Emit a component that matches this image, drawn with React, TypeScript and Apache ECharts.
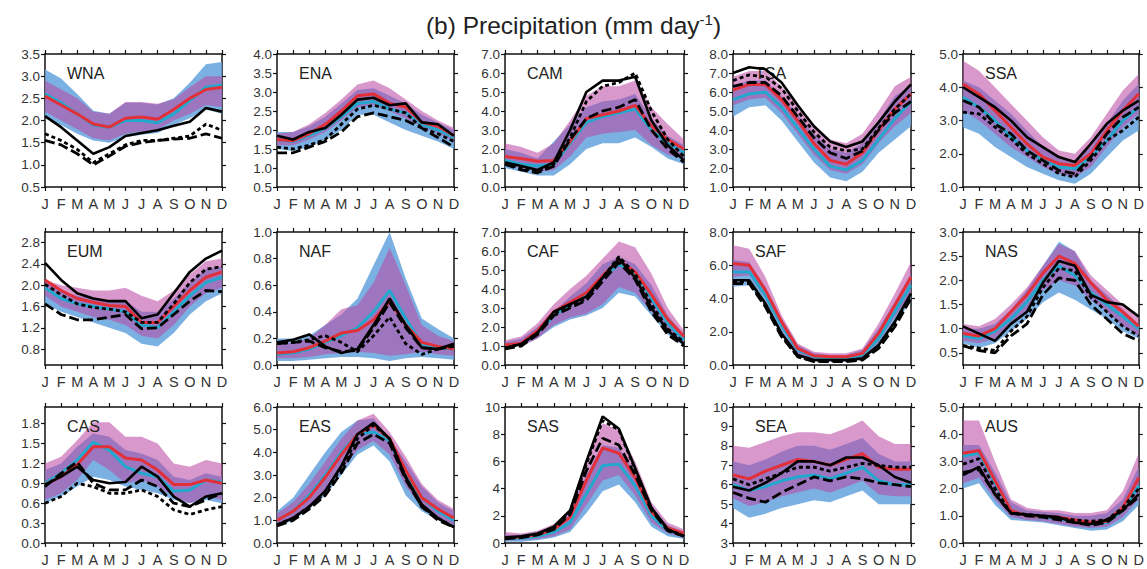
import React, { useEffect, useRef } from "react";
import * as echarts from "echarts";

const months = ["J", "F", "M", "A", "M", "J", "J", "A", "S", "O", "N", "D"];
const FONT = "'Liberation Sans', Arial, Helvetica, sans-serif";

// ---------- WNA ----------
const WNA_blueLo = [2.05, 1.9, 1.7, 1.55, 1.5, 1.62, 1.68, 1.72, 1.9, 2.05, 2.25, 2.15];
const WNA_blueHi = [3.15, 2.95, 2.6, 2.22, 2.15, 2.4, 2.4, 2.36, 2.5, 2.85, 3.27, 3.32];
const WNA_purpLo = [2.2, 2.0, 1.8, 1.6, 1.55, 1.7, 1.75, 1.8, 2.0, 2.15, 2.35, 2.3];
const WNA_purpHi = [2.9, 2.7, 2.5, 2.2, 2.15, 2.42, 2.42, 2.38, 2.48, 2.75, 3.0, 3.0];
const WNA_cyan = [2.6, 2.4, 2.15, 1.9, 1.85, 2.0, 2.0, 1.95, 2.15, 2.45, 2.75, 2.8];
const WNA_red = [2.55, 2.35, 2.15, 1.92, 1.85, 2.05, 2.08, 2.03, 2.25, 2.5, 2.7, 2.75];
const WNA_obsSolid = [2.1, 1.85, 1.55, 1.25, 1.4, 1.65, 1.72, 1.78, 1.88, 1.97, 2.28, 2.2];
const WNA_obsDash = [1.55, 1.45, 1.25, 1.0, 1.2, 1.42, 1.5, 1.55, 1.58, 1.6, 1.7, 1.6];
const WNA_obsDot = [1.7, 1.55, 1.35, 1.05, 1.25, 1.45, 1.55, 1.55, 1.6, 1.65, 1.92, 1.78];

// ---------- ENA ----------
const ENA_blueLo = [1.5, 1.45, 1.55, 1.75, 2.0, 2.4, 2.4, 2.2, 2.0, 1.85, 1.7, 1.5];
const ENA_blueHi = [1.95, 1.95, 2.1, 2.35, 2.7, 3.05, 3.1, 2.9, 2.7, 2.4, 2.2, 2.0];
const ENA_purpLo = [1.6, 1.6, 1.75, 1.95, 2.25, 2.6, 2.65, 2.5, 2.3, 2.1, 1.9, 1.7];
const ENA_purpHi = [1.9, 1.95, 2.15, 2.45, 2.8, 3.2, 3.3, 3.1, 2.8, 2.5, 2.25, 2.05];
const ENA_cyan = [1.75, 1.7, 1.85, 2.05, 2.35, 2.7, 2.75, 2.55, 2.45, 2.15, 2.0, 1.8];
const ENA_red = [1.75, 1.72, 1.9, 2.15, 2.5, 2.9, 2.95, 2.7, 2.6, 2.2, 2.1, 1.85];
const ENA_obsSolid = [1.85, 1.75, 1.95, 2.05, 2.4, 2.8, 2.85, 2.65, 2.7, 2.2, 2.15, 1.85];
const ENA_obsDash = [1.4, 1.4, 1.55, 1.7, 1.95, 2.35, 2.45, 2.35, 2.25, 2.05, 1.8, 1.55];
const ENA_obsDot = [1.55, 1.5, 1.6, 1.75, 2.15, 2.55, 2.65, 2.55, 2.45, 2.05, 1.9, 1.7];

// ---------- CAM ----------
const CAM_blueLo = [1.0, 0.8, 0.6, 0.6, 1.2, 2.0, 2.3, 2.3, 2.6, 2.1, 1.5, 1.2];
const CAM_blueHi = [2.0, 1.8, 1.5, 2.4, 3.3, 4.2, 4.5, 4.6, 4.9, 3.6, 2.7, 2.2];
const CAM_purpLo = [1.2, 1.0, 0.8, 0.9, 1.6, 2.6, 2.8, 2.9, 3.0, 2.2, 1.7, 1.5];
const CAM_purpHi = [2.3, 2.1, 1.8, 2.3, 3.5, 4.8, 5.3, 5.3, 5.6, 4.2, 3.3, 2.5];
const CAM_cyan = [1.4, 1.2, 1.1, 1.2, 2.3, 3.4, 3.7, 3.9, 4.1, 3.0, 2.3, 1.8];
const CAM_red = [1.6, 1.5, 1.35, 1.4, 2.4, 3.6, 3.8, 4.0, 4.3, 3.2, 2.5, 2.0];
const CAM_obsSolid = [1.3, 1.1, 0.9, 1.3, 3.0, 5.0, 5.6, 5.6, 5.8, 3.5, 2.2, 1.4];
const CAM_obsDash = [1.2, 0.9, 0.75, 1.1, 2.5, 3.6, 4.0, 4.2, 4.6, 3.0, 2.0, 1.3];
const CAM_obsDot = [1.2, 1.0, 0.8, 1.2, 2.6, 4.5, 5.3, 5.5, 6.0, 4.0, 2.5, 1.6];

// ---------- TSA ----------
const TSA_blueLo = [4.7, 5.2, 5.3, 4.5, 3.4, 2.3, 1.5, 1.3, 1.8, 2.8, 3.5, 4.2];
const TSA_blueHi = [6.3, 6.6, 6.6, 5.8, 4.8, 3.8, 3.0, 2.8, 3.3, 4.5, 5.8, 6.3];
const TSA_purpLo = [5.3, 5.6, 5.7, 4.9, 3.8, 2.7, 1.9, 1.7, 2.2, 3.3, 4.2, 4.9];
const TSA_purpHi = [6.8, 7.1, 7.1, 6.3, 5.3, 4.3, 3.5, 3.3, 3.8, 5.0, 6.3, 6.8];
const TSA_cyan = [5.6, 5.9, 6.0, 5.2, 4.1, 3.0, 2.1, 1.9, 2.4, 3.5, 4.6, 5.5];
const TSA_red = [6.1, 6.4, 6.4, 5.6, 4.5, 3.3, 2.4, 2.2, 2.8, 4.0, 5.1, 5.9];
const TSA_obsSolid = [7.0, 7.3, 7.2, 6.5, 5.3, 4.2, 3.4, 3.1, 3.4, 4.4, 5.5, 6.4];
const TSA_obsDash = [6.3, 6.5, 6.5, 5.8, 4.7, 3.6, 2.8, 2.5, 2.9, 4.0, 4.9, 5.5];
const TSA_obsDot = [6.6, 6.9, 6.8, 6.2, 5.0, 3.9, 3.1, 2.9, 3.0, 4.1, 5.1, 5.9];

// ---------- SSA ----------
const SSA_blueLo = [2.8, 2.6, 2.2, 1.9, 1.6, 1.4, 1.2, 1.1, 1.4, 1.9, 2.4, 2.7];
const SSA_blueHi = [4.2, 4.0, 3.6, 3.2, 2.7, 2.2, 1.9, 1.8, 2.2, 2.9, 3.6, 4.1];
const SSA_purpLo = [3.3, 3.0, 2.6, 2.2, 1.9, 1.6, 1.4, 1.3, 1.6, 2.2, 2.8, 3.2];
const SSA_purpHi = [4.8, 4.5, 4.0, 3.5, 3.0, 2.5, 2.1, 2.0, 2.5, 3.2, 3.9, 4.4];
const SSA_cyan = [3.7, 3.4, 3.0, 2.5, 2.1, 1.8, 1.6, 1.55, 1.9, 2.4, 3.0, 3.4];
const SSA_red = [4.1, 3.8, 3.3, 2.8, 2.3, 1.9, 1.7, 1.65, 2.0, 2.7, 3.3, 3.8];
const SSA_obsSolid = [4.0, 3.7, 3.4, 3.0, 2.5, 2.2, 1.9, 1.75, 2.3, 2.9, 3.3, 3.6];
const SSA_obsDash = [3.6, 3.4, 2.9, 2.6, 2.1, 1.8, 1.5, 1.4, 1.9, 2.6, 3.1, 3.4];
const SSA_obsDot = [3.25, 3.2, 2.8, 2.45, 2.0, 1.7, 1.4, 1.3, 1.8, 2.4, 2.7, 3.1];

// ---------- EUM ----------
const EUM_blueLo = [1.65, 1.5, 1.4, 1.3, 1.2, 1.1, 0.9, 0.85, 1.1, 1.45, 1.7, 1.85];
const EUM_blueHi = [2.05, 1.9, 1.8, 1.75, 1.7, 1.7, 1.5, 1.5, 1.75, 2.05, 2.3, 2.35];
const EUM_purpLo = [1.8, 1.6, 1.5, 1.4, 1.35, 1.25, 1.05, 1.0, 1.25, 1.6, 1.85, 1.95];
const EUM_purpHi = [2.1, 2.0, 1.95, 1.9, 1.9, 1.95, 1.8, 1.7, 1.9, 2.2, 2.45, 2.5];
const EUM_cyan = [1.95, 1.75, 1.65, 1.6, 1.55, 1.5, 1.25, 1.2, 1.5, 1.8, 2.05, 2.15];
const EUM_red = [2.1, 1.9, 1.75, 1.68, 1.62, 1.6, 1.3, 1.3, 1.6, 1.9, 2.15, 2.25];
const EUM_obsSolid = [2.42, 2.1, 1.85, 1.75, 1.7, 1.7, 1.38, 1.45, 1.85, 2.25, 2.5, 2.65];
const EUM_obsDash = [1.65, 1.45, 1.35, 1.35, 1.4, 1.45, 1.18, 1.2, 1.45, 1.7, 1.9, 1.88];
const EUM_obsDot = [2.02, 1.82, 1.65, 1.58, 1.55, 1.5, 1.3, 1.3, 1.65, 2.05, 2.3, 2.35];

// ---------- NAF ----------
const NAF_blueLo = [0.03, 0.03, 0.04, 0.05, 0.06, 0.06, 0.05, 0.03, 0.05, 0.06, 0.05, 0.04];
const NAF_blueHi = [0.2, 0.2, 0.22, 0.3, 0.38, 0.5, 0.75, 1.0, 0.65, 0.35, 0.27, 0.2];
const NAF_purpLo = [0.05, 0.05, 0.06, 0.08, 0.09, 0.1, 0.09, 0.07, 0.08, 0.1, 0.08, 0.07];
const NAF_purpHi = [0.15, 0.17, 0.2, 0.3, 0.42, 0.45, 0.62, 0.88, 0.6, 0.3, 0.22, 0.18];
const NAF_cyan = [0.08, 0.09, 0.12, 0.17, 0.22, 0.28, 0.4, 0.56, 0.35, 0.16, 0.13, 0.12];
const NAF_red = [0.09, 0.1, 0.13, 0.18, 0.24, 0.26, 0.34, 0.48, 0.3, 0.17, 0.14, 0.12];
const NAF_obsSolid = [0.17, 0.19, 0.23, 0.14, 0.09, 0.12, 0.3, 0.5, 0.3, 0.13, 0.12, 0.16];
const NAF_obsDash = [0.16, 0.17, 0.18, 0.13, 0.1, 0.11, 0.28, 0.47, 0.28, 0.13, 0.12, 0.14];
const NAF_obsDot = [0.16, 0.17, 0.19, 0.22, 0.17, 0.1, 0.22, 0.36, 0.16, 0.08, 0.12, 0.15];

// ---------- CAF ----------
const CAF_blueLo = [0.9, 1.0, 1.4, 2.0, 2.4, 2.6, 3.0, 3.8, 3.6, 2.6, 1.6, 1.0];
const CAF_blueHi = [1.2, 1.4, 2.0, 2.8, 3.6, 4.3, 5.3, 5.7, 5.3, 4.2, 2.6, 1.6];
const CAF_purpLo = [0.9, 1.0, 1.4, 2.1, 2.5, 2.7, 3.2, 4.1, 3.8, 2.8, 1.8, 1.1];
const CAF_purpHi = [1.3, 1.5, 2.2, 3.2, 4.0, 4.7, 5.6, 6.5, 6.2, 4.8, 3.0, 1.8];
const CAF_cyan = [1.0, 1.1, 1.7, 2.6, 3.2, 3.7, 4.6, 5.3, 4.8, 3.5, 2.2, 1.3];
const CAF_red = [1.05, 1.15, 1.8, 2.8, 3.3, 3.8, 4.7, 5.5, 4.9, 3.7, 2.4, 1.5];
const CAF_obsSolid = [0.9, 1.1, 1.7, 2.8, 3.2, 3.6, 4.6, 5.6, 4.6, 3.0, 1.8, 1.1];
const CAF_obsDash = [0.85, 1.0, 1.6, 2.6, 3.0, 3.4, 4.4, 5.4, 4.5, 2.8, 1.6, 1.0];
const CAF_obsDot = [0.9, 1.1, 1.7, 2.7, 3.1, 3.5, 4.6, 5.7, 4.8, 3.2, 1.9, 1.2];

// ---------- SAF ----------
const SAF_blueLo = [4.7, 4.8, 3.6, 1.9, 0.5, 0.2, 0.2, 0.2, 0.3, 1.1, 2.5, 3.8];
const SAF_blueHi = [6.3, 6.2, 4.7, 2.8, 1.2, 0.7, 0.6, 0.6, 0.9, 2.2, 3.8, 5.5];
const SAF_purpLo = [5.3, 5.4, 4.0, 2.2, 0.7, 0.3, 0.25, 0.25, 0.45, 1.4, 2.9, 4.3];
const SAF_purpHi = [7.2, 7.0, 5.3, 3.0, 1.3, 0.8, 0.7, 0.7, 1.0, 2.5, 4.3, 6.2];
const SAF_cyan = [5.6, 5.6, 4.2, 2.4, 0.9, 0.5, 0.4, 0.4, 0.6, 1.6, 3.2, 4.8];
const SAF_red = [6.1, 6.0, 4.5, 2.6, 1.0, 0.55, 0.5, 0.5, 0.7, 1.9, 3.6, 5.3];
const SAF_obsSolid = [5.1, 5.1, 3.7, 1.9, 0.6, 0.3, 0.3, 0.3, 0.4, 1.2, 2.6, 4.3];
const SAF_obsDash = [4.9, 4.9, 3.5, 1.7, 0.5, 0.2, 0.2, 0.2, 0.3, 1.0, 2.3, 4.0];
const SAF_obsDot = [5.0, 5.0, 3.6, 1.8, 0.5, 0.25, 0.25, 0.25, 0.35, 1.1, 2.5, 4.2];

// ---------- NAS ----------
const NAS_blueLo = [0.7, 0.6, 0.7, 0.95, 1.2, 1.55, 1.75, 1.6, 1.4, 1.2, 0.95, 0.8];
const NAS_blueHi = [1.0, 1.0, 1.1, 1.4, 1.8, 2.3, 2.8, 2.6, 2.0, 1.7, 1.4, 1.1];
const NAS_purpLo = [0.75, 0.7, 0.8, 1.1, 1.4, 1.8, 2.0, 1.9, 1.6, 1.35, 1.05, 0.85];
const NAS_purpHi = [1.1, 1.05, 1.2, 1.5, 1.85, 2.3, 2.75, 2.6, 2.1, 1.8, 1.5, 1.2];
const NAS_cyan = [0.85, 0.8, 0.95, 1.2, 1.55, 2.0, 2.3, 2.1, 1.75, 1.5, 1.25, 1.0];
const NAS_red = [0.9, 0.85, 1.0, 1.35, 1.7, 2.15, 2.5, 2.35, 1.95, 1.6, 1.35, 1.05];
const NAS_obsSolid = [1.05, 0.9, 0.75, 1.1, 1.35, 1.95, 2.4, 2.3, 1.7, 1.55, 1.5, 1.25];
const NAS_obsDash = [0.65, 0.55, 0.5, 0.85, 1.1, 1.7, 2.05, 2.0, 1.5, 1.2, 0.9, 0.75];
const NAS_obsDot = [0.65, 0.6, 0.55, 0.95, 1.25, 1.85, 2.25, 2.2, 1.65, 1.35, 1.05, 0.85];

// ---------- CAS ----------
const CAS_blueLo = [0.6, 0.7, 0.85, 1.0, 0.95, 0.85, 0.8, 0.75, 0.65, 0.6, 0.65, 0.6];
const CAS_blueHi = [1.1, 1.2, 1.45, 1.65, 1.6, 1.4, 1.35, 1.25, 1.0, 0.95, 1.05, 1.0];
const CAS_purpLo = [0.65, 0.75, 0.95, 1.25, 1.1, 0.9, 0.95, 0.85, 0.7, 0.6, 0.7, 0.65];
const CAS_purpHi = [1.2, 1.3, 1.55, 1.82, 1.82, 1.6, 1.6, 1.5, 1.2, 1.15, 1.25, 1.2];
const CAS_cyan = [0.9, 1.05, 1.25, 1.52, 1.4, 1.15, 1.05, 1.0, 0.78, 0.8, 0.95, 0.92];
const CAS_red = [0.88, 1.0, 1.18, 1.45, 1.45, 1.28, 1.25, 1.1, 0.88, 0.88, 0.95, 0.9];
const CAS_obsSolid = [0.88, 1.0, 1.15, 0.95, 0.9, 0.92, 1.15, 1.0, 0.7, 0.55, 0.7, 0.75];
const CAS_obsDash = [0.85, 1.05, 1.22, 0.9, 0.8, 0.8, 0.95, 0.85, 0.6, 0.55, 0.65, 0.75];
const CAS_obsDot = [0.6, 0.7, 0.9, 0.85, 0.75, 0.75, 0.8, 0.7, 0.5, 0.43, 0.5, 0.55];

// ---------- EAS ----------
const EAS_blueLo = [0.7, 1.0, 1.5, 2.1, 3.0, 3.9, 4.3, 3.6, 2.1, 1.4, 1.0, 0.7];
const EAS_blueHi = [1.4, 2.0, 3.0, 4.0, 4.9, 5.4, 5.5, 4.6, 3.6, 2.5, 1.8, 1.4];
const EAS_purpLo = [0.8, 1.1, 1.6, 2.3, 3.2, 4.1, 4.5, 3.9, 2.5, 1.6, 1.1, 0.8];
const EAS_purpHi = [1.3, 1.8, 2.6, 3.6, 4.6, 5.4, 5.7, 4.9, 3.8, 2.6, 1.9, 1.5];
const EAS_cyan = [1.0, 1.4, 2.1, 3.0, 4.0, 4.8, 4.9, 4.5, 3.0, 2.0, 1.4, 1.0];
const EAS_red = [1.0, 1.4, 2.0, 2.9, 3.9, 4.8, 5.2, 4.6, 3.2, 2.0, 1.5, 1.1];
const EAS_obsSolid = [0.8, 1.1, 1.6, 2.3, 3.4, 4.8, 5.3, 4.6, 2.9, 1.7, 1.1, 0.7];
const EAS_obsDash = [0.75, 1.0, 1.5, 2.1, 3.1, 4.4, 4.8, 4.4, 2.8, 1.6, 1.0, 0.7];
const EAS_obsDot = [0.8, 1.1, 1.6, 2.2, 3.3, 4.6, 5.2, 4.6, 2.9, 1.6, 1.1, 0.7];

// ---------- SAS ----------
const SAS_blueLo = [0.1, 0.1, 0.2, 0.4, 0.8, 2.2, 3.8, 4.3, 3.0, 1.2, 0.5, 0.3];
const SAS_blueHi = [0.6, 0.6, 0.8, 1.2, 2.2, 5.0, 7.2, 7.0, 5.2, 2.7, 1.3, 0.8];
const SAS_purpLo = [0.2, 0.2, 0.3, 0.5, 1.0, 2.8, 4.6, 5.0, 3.5, 1.5, 0.7, 0.4];
const SAS_purpHi = [0.8, 0.7, 0.9, 1.4, 2.5, 6.0, 8.8, 8.3, 6.0, 3.0, 1.5, 1.0];
const SAS_cyan = [0.35, 0.35, 0.5, 0.8, 1.5, 3.6, 5.7, 5.8, 4.2, 2.0, 0.9, 0.6];
const SAS_red = [0.4, 0.45, 0.6, 1.0, 1.9, 4.6, 7.0, 6.6, 4.8, 2.3, 1.1, 0.7];
const SAS_obsSolid = [0.4, 0.5, 0.7, 1.2, 2.4, 6.0, 9.3, 8.4, 5.5, 2.6, 1.0, 0.5];
const SAS_obsDash = [0.3, 0.4, 0.6, 1.0, 2.1, 5.3, 7.7, 7.2, 5.0, 2.4, 0.9, 0.5];
const SAS_obsDot = [0.35, 0.45, 0.65, 1.1, 2.3, 5.8, 9.0, 8.3, 5.4, 2.5, 1.0, 0.5];

// ---------- SEA ----------
const SEA_blueLo = [4.8, 4.3, 4.5, 4.8, 5.0, 5.2, 5.1, 5.4, 5.7, 5.0, 5.0, 5.0];
const SEA_blueHi = [7.2, 7.0, 7.3, 7.7, 8.0, 8.0, 7.8, 8.1, 8.4, 7.6, 7.2, 7.2];
const SEA_purpLo = [5.3, 4.9, 5.1, 5.4, 5.6, 5.8, 5.6, 5.9, 6.2, 5.5, 5.4, 5.4];
const SEA_purpHi = [8.0, 7.9, 8.2, 8.5, 8.7, 8.7, 8.6, 8.9, 9.3, 8.5, 8.1, 8.1];
const SEA_cyan = [6.0, 5.7, 5.9, 6.2, 6.4, 6.5, 6.3, 6.6, 6.9, 6.2, 6.0, 6.0];
const SEA_red = [6.5, 6.3, 6.7, 7.0, 7.3, 7.2, 7.0, 7.3, 7.6, 6.9, 6.8, 6.8];
const SEA_obsSolid = [5.9, 5.7, 6.1, 6.6, 7.2, 7.2, 7.0, 7.4, 7.4, 7.0, 6.4, 6.1];
const SEA_obsDash = [5.6, 5.3, 5.1, 5.6, 6.0, 6.4, 6.2, 6.4, 6.3, 6.1, 6.0, 5.9];
const SEA_obsDot = [6.3, 6.0, 6.3, 6.6, 6.9, 6.9, 6.7, 6.9, 7.1, 7.0, 6.9, 6.9];

// ---------- AUS ----------
const AUS_blueLo = [2.0, 2.2, 1.4, 0.85, 0.8, 0.75, 0.65, 0.55, 0.45, 0.5, 0.8, 1.4];
const AUS_blueHi = [3.6, 3.6, 2.6, 1.5, 1.2, 1.15, 1.1, 1.0, 1.0, 1.1, 1.6, 2.8];
const AUS_purpLo = [2.2, 2.4, 1.6, 0.95, 0.85, 0.8, 0.7, 0.6, 0.55, 0.6, 0.95, 1.6];
const AUS_purpHi = [4.5, 4.5, 3.0, 1.6, 1.3, 1.2, 1.2, 1.1, 1.1, 1.2, 1.9, 3.3];
const AUS_cyan = [3.2, 3.3, 2.2, 1.2, 1.0, 0.95, 0.9, 0.8, 0.7, 0.75, 1.2, 2.1];
const AUS_red = [3.3, 3.4, 2.3, 1.2, 1.0, 0.98, 0.95, 0.85, 0.75, 0.8, 1.3, 2.4];
const AUS_obsSolid = [2.5, 2.8, 1.8, 1.1, 1.05, 1.0, 0.95, 0.75, 0.7, 0.85, 1.2, 1.8];
const AUS_obsDash = [2.6, 2.7, 1.8, 1.1, 1.0, 0.95, 0.85, 0.75, 0.65, 0.75, 1.2, 1.7];
const AUS_obsDot = [2.9, 3.1, 2.0, 1.1, 1.05, 1.0, 0.9, 0.85, 0.8, 0.85, 1.3, 2.0];

// ---------- axis ranges and tick labels ----------
const regionNames = ["WNA", "ENA", "CAM", "TSA", "SSA", "EUM", "NAF", "CAF", "SAF", "NAS", "CAS", "EAS", "SAS", "SEA", "AUS"];
const yMins = [0.5, 0.5, 0, 1, 1, 0.5, 0, 0, 0, 0.25, 0, 0, 0, 3, 0];
const yMaxs = [3.5, 4.0, 7, 8, 5, 3.0, 1.0, 7, 8, 3.0, 2.05, 6, 10, 10, 5];
const yTicks = [
  [0.5, 1.0, 1.5, 2.0, 2.5, 3.0, 3.5],
  [0.5, 1.0, 1.5, 2.0, 2.5, 3.0, 3.5, 4.0],
  [0, 1, 2, 3, 4, 5, 6, 7],
  [1, 2, 3, 4, 5, 6, 7, 8],
  [1, 2, 3, 4, 5],
  [0.8, 1.2, 1.6, 2.0, 2.4, 2.8],
  [0, 0.2, 0.4, 0.6, 0.8, 1.0],
  [0, 1, 2, 3, 4, 5, 6, 7],
  [0, 2, 4, 6, 8],
  [0.5, 1.0, 1.5, 2.0, 2.5, 3.0],
  [0, 0.3, 0.6, 0.9, 1.2, 1.5, 1.8],
  [0, 1, 2, 3, 4, 5, 6],
  [0, 2, 4, 6, 8, 10],
  [3, 4, 5, 6, 7, 8, 9, 10],
  [0, 1, 2, 3, 4, 5],
];
const yDecimals = [1, 1, 1, 1, 1, 1, 1, 1, 1, 1, 1, 1, 0, 0, 1];

const panels = [
  [WNA_blueLo, WNA_blueHi, WNA_purpLo, WNA_purpHi, WNA_cyan, WNA_red, WNA_obsSolid, WNA_obsDash, WNA_obsDot],
  [ENA_blueLo, ENA_blueHi, ENA_purpLo, ENA_purpHi, ENA_cyan, ENA_red, ENA_obsSolid, ENA_obsDash, ENA_obsDot],
  [CAM_blueLo, CAM_blueHi, CAM_purpLo, CAM_purpHi, CAM_cyan, CAM_red, CAM_obsSolid, CAM_obsDash, CAM_obsDot],
  [TSA_blueLo, TSA_blueHi, TSA_purpLo, TSA_purpHi, TSA_cyan, TSA_red, TSA_obsSolid, TSA_obsDash, TSA_obsDot],
  [SSA_blueLo, SSA_blueHi, SSA_purpLo, SSA_purpHi, SSA_cyan, SSA_red, SSA_obsSolid, SSA_obsDash, SSA_obsDot],
  [EUM_blueLo, EUM_blueHi, EUM_purpLo, EUM_purpHi, EUM_cyan, EUM_red, EUM_obsSolid, EUM_obsDash, EUM_obsDot],
  [NAF_blueLo, NAF_blueHi, NAF_purpLo, NAF_purpHi, NAF_cyan, NAF_red, NAF_obsSolid, NAF_obsDash, NAF_obsDot],
  [CAF_blueLo, CAF_blueHi, CAF_purpLo, CAF_purpHi, CAF_cyan, CAF_red, CAF_obsSolid, CAF_obsDash, CAF_obsDot],
  [SAF_blueLo, SAF_blueHi, SAF_purpLo, SAF_purpHi, SAF_cyan, SAF_red, SAF_obsSolid, SAF_obsDash, SAF_obsDot],
  [NAS_blueLo, NAS_blueHi, NAS_purpLo, NAS_purpHi, NAS_cyan, NAS_red, NAS_obsSolid, NAS_obsDash, NAS_obsDot],
  [CAS_blueLo, CAS_blueHi, CAS_purpLo, CAS_purpHi, CAS_cyan, CAS_red, CAS_obsSolid, CAS_obsDash, CAS_obsDot],
  [EAS_blueLo, EAS_blueHi, EAS_purpLo, EAS_purpHi, EAS_cyan, EAS_red, EAS_obsSolid, EAS_obsDash, EAS_obsDot],
  [SAS_blueLo, SAS_blueHi, SAS_purpLo, SAS_purpHi, SAS_cyan, SAS_red, SAS_obsSolid, SAS_obsDash, SAS_obsDot],
  [SEA_blueLo, SEA_blueHi, SEA_purpLo, SEA_purpHi, SEA_cyan, SEA_red, SEA_obsSolid, SEA_obsDash, SEA_obsDot],
  [AUS_blueLo, AUS_blueHi, AUS_purpLo, AUS_purpHi, AUS_cyan, AUS_red, AUS_obsSolid, AUS_obsDash, AUS_obsDot],
];

const COL_LEFT = [45, 277, 505, 733, 963];
const COL_W = [177, 177, 179, 178, 181];
const ROW_TOP = [54, 232, 407];
const ROW_H = [133, 133, 136];

const BLUE = "rgba(100,162,222,0.85)";
const PURPLE = "rgba(185,72,162,0.56)";
const CYAN = "#22a8cc";
const RED = "#e2303a";
const BLACK = "#000";

function buildOption() {
  const grid: any[] = [];
  const xAxis: any[] = [];
  const yAxis: any[] = [];
  const series: any[] = [];
  const titles: any[] = [
    {
      text: "{a|(b) Precipitation (mm day}{s|-1}{a|)}",
      left: "center",
      top: 5,
      textStyle: {
        rich: {
          a: { fontFamily: FONT, fontSize: 24.5, fontWeight: "normal", color: "#222", lineHeight: 30 },
          s: { fontFamily: FONT, fontSize: 15, fontWeight: "normal", color: "#222", lineHeight: 30, padding: [0, 0, 12, 0] },
        },
      },
    },
  ];
  const axLine = { show: true, onZero: false, lineStyle: { color: "#111", width: 1.5 } };
  const tick = { show: true, length: 4, lineStyle: { color: "#111", width: 1.2 } };

  panels.forEach((p, i) => {
    const r = Math.floor(i / 5);
    const c = i % 5;
    const left = COL_LEFT[c];
    const top = ROW_TOP[r];
    grid.push({ left, top, width: COL_W[c], height: ROW_H[r] });
    titles.push({
      text: regionNames[i],
      left: left + 17,
      top: top + 6,
      textStyle: { fontFamily: FONT, fontSize: 16, fontWeight: "normal", color: "#222" },
    });
    xAxis.push({
      gridIndex: i,
      type: "category",
      data: months,
      boundaryGap: false,
      position: "bottom",
      axisLine: axLine,
      axisTick: { ...tick, interval: 0 },
      axisLabel: { interval: 0, color: "#333", fontSize: 14.5, fontFamily: FONT, margin: 9 },
      splitLine: { show: false },
    });
    xAxis.push({
      gridIndex: i,
      type: "category",
      data: months,
      boundaryGap: false,
      position: "top",
      axisLine: axLine,
      axisTick: { ...tick, interval: 0 },
      axisLabel: { show: false },
      splitLine: { show: false },
    });
    const dec = yDecimals[i];
    yAxis.push({
      gridIndex: i,
      type: "value",
      min: yMins[i],
      max: yMaxs[i],
      position: "left",
      axisLine: axLine,
      axisTick: { ...tick, customValues: yTicks[i] },
      axisLabel: {
        customValues: yTicks[i],
        formatter: (v: number) => v.toFixed(dec),
        color: "#333",
        fontSize: 13.5,
        fontFamily: FONT,
        margin: 5,
      },
      splitLine: { show: false },
    });
    yAxis.push({
      gridIndex: i,
      type: "value",
      min: yMins[i],
      max: yMaxs[i],
      position: "right",
      axisLine: axLine,
      axisTick: { ...tick, customValues: yTicks[i] },
      axisLabel: { show: false },
      splitLine: { show: false },
    });
    const xi = i * 2;
    const yi = i * 2;
    const [bLo, bHi, pLo, pHi, cy, rd, o1, o2, o3] = p;
    const band = (lo: number[], hi: number[], color: string, name: string, z: number) => [
      {
        type: "line",
        xAxisIndex: xi,
        yAxisIndex: yi,
        data: lo,
        stack: name + i,
        symbol: "none",
        lineStyle: { opacity: 0 },
        silent: true,
        z,
      },
      {
        type: "line",
        xAxisIndex: xi,
        yAxisIndex: yi,
        data: hi.map((h, k) => +(h - lo[k]).toFixed(4)),
        stack: name + i,
        symbol: "none",
        lineStyle: { opacity: 0 },
        areaStyle: { color, opacity: 1 },
        silent: true,
        z,
      },
    ];
    series.push(...band(bLo, bHi, BLUE, "blue", 1));
    series.push(...band(pLo, pHi, PURPLE, "purp", 2));
    const line = (data: number[], color: string, type: any, width: number, z: number) => ({
      type: "line",
      xAxisIndex: xi,
      yAxisIndex: yi,
      data,
      symbol: "none",
      lineStyle: { color, width, type },
      silent: true,
      z,
    });
    series.push(line(cy, CYAN, "solid", 3, 3));
    series.push(line(rd, RED, "solid", 3, 4));
    series.push(line(o3, BLACK, [4, 3], 2.8, 5));
    series.push(line(o2, BLACK, [10, 4], 2.8, 5));
    series.push(line(o1, BLACK, "solid", 2.6, 6));
  });

  return { animation: false, backgroundColor: "#fff", title: titles, grid, xAxis, yAxis, series };
}

export default function App() {
  const ref = useRef<HTMLDivElement>(null);
  useEffect(() => {
    if (!ref.current) return;
    const chart = echarts.init(ref.current, undefined, { renderer: "svg" });
    chart.setOption(buildOption() as any);
    return () => chart.dispose();
  }, []);
  return (
    <div
      ref={ref}
      style={{ position: "absolute", left: 0, top: 0, width: 1147, height: 569, background: "#fff" }}
    />
  );
}
